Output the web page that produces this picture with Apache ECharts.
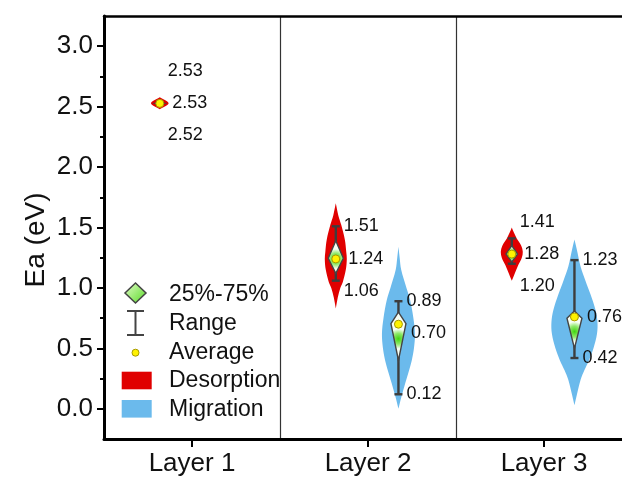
<!DOCTYPE html>
<html><head><meta charset="utf-8">
<script src="https://cdn.jsdelivr.net/npm/echarts@6/dist/echarts.min.js"></script>
<style>html,body{margin:0;padding:0;background:#fff}#c{width:622px;height:484px}</style>
</head><body><div id="c"></div>
<script>
// ---- data ----
const layers = ['Layer 1', 'Layer 2', 'Layer 3'];
const yTickValues = [0, 0.5, 1.0, 1.5, 2.0, 2.5, 3.0];
const yMinorTickValues = [0.25, 0.75, 1.25, 1.75, 2.25, 2.75];

// desorption statistics per layer
const desorptionMin    = [2.52, 1.06, 1.20];
const desorptionQ1     = [2.52, 1.12, 1.215];
const desorptionMedian = [2.527, 1.245, 1.28];
const desorptionQ3     = [2.533, 1.39, 1.35];
const desorptionMax    = [2.53, 1.51, 1.41];
const desorptionMean   = [2.527, 1.24, 1.28];
// migration statistics per layer (no migration in Layer 1)
const migrationMin    = [null, 0.12, 0.42];
const migrationQ1     = [null, 0.40, 0.50];
const migrationMedian = [null, 0.705, 0.75];
const migrationQ3     = [null, 0.80, 0.81];
const migrationMax    = [null, 0.89, 1.23];
const migrationMean   = [null, 0.70, 0.76];

// violin density profiles: [Ea value, relative density]
const desorptionDensity = [
  [[2.478, 0], [2.528, 0.8], [2.578, 0]],
  [[0.83, 0], [0.92, 0.18], [1.00, 0.41], [1.05, 0.64], [1.15, 0.91], [1.24, 1.0], [1.30, 0.95], [1.40, 0.82], [1.52, 0.5], [1.60, 0.23], [1.70, 0]],
  [[1.06, 0], [1.12, 0.27], [1.19, 0.59], [1.25, 0.91], [1.30, 1.0], [1.35, 0.86], [1.41, 0.45], [1.46, 0.18], [1.50, 0]]
];
const migrationDensity = [
  null,
  [[0.0, 0], [0.1, 0.27], [0.21, 0.61], [0.3, 0.91], [0.40, 1.21], [0.5, 1.41], [0.62, 1.5], [0.75, 1.36], [0.9, 1.06], [1.0, 0.73], [1.15, 0.25], [1.25, 0.11], [1.34, 0]],
  [[0.03, 0], [0.12, 0.23], [0.24, 0.56], [0.32, 0.91], [0.40, 1.32], [0.5, 1.73], [0.62, 2.05], [0.72, 2.09], [0.82, 1.91], [0.95, 1.45], [1.06, 1.0], [1.18, 0.55], [1.32, 0.21], [1.40, 0]]
];

// ---- chart ----
const FONT = '"Liberation Sans", Arial, Helvetica, sans-serif';
const chart = echarts.init(document.getElementById('c'), null, {renderer: 'canvas'});

function buildData(mn, q1, md, q3, mx, mean) {
  return layers.map((_, i) => [i, mn[i], q1[i], md[i], q3[i], mx[i], mean[i]]);
}

const boxFill = {
  type: 'radial', x: 0.5, y: 0.55, r: 0.6,
  colorStops: [{offset: 0, color: '#3fd60f'}, {offset: 0.55, color: '#8fe86a'}, {offset: 1, color: '#f8fff4'}]
};

function makeRender(profiles, offsetFrac, color) {
  return function (params, api) {
    const i = api.value(0);
    const prof = profiles[i];
    if (!prof || api.value(1) == null || isNaN(api.value(1))) return null;
    const vMin = api.value(1), q1 = api.value(2), med = api.value(3),
          q3 = api.value(4), vMax = api.value(5), mean = api.value(6);
    const band = api.size([1, 0])[0];
    const cx = api.coord([i, 0])[0] + offsetFrac * band;
    const unit = band / 16;
    const Y = v => api.coord([i, v])[1];
    const right = prof.map(p => [cx + p[1] * unit, Y(p[0])]);
    const left = prof.slice().reverse().map(p => [cx - p[1] * unit, Y(p[0])]);
    const children = [];
    children.push({
      type: 'polygon',
      shape: {points: right.concat(left), smooth: 0.35},
      style: {fill: color, stroke: null}
    });
    const yMax = Y(vMax), yMin = Y(vMin), yMean = Y(mean);
    const cap = 4;
    const wStyle = {stroke: '#3d3d3d', lineWidth: 2.4};
    children.push({type: 'line', shape: {x1: cx, y1: yMax, x2: cx, y2: yMin}, style: wStyle});
    children.push({type: 'line', shape: {x1: cx - cap, y1: yMax, x2: cx + cap, y2: yMax}, style: wStyle});
    children.push({type: 'line', shape: {x1: cx - cap, y1: yMin, x2: cx + cap, y2: yMin}, style: wStyle});
    const yq1 = Y(q1), yq3 = Y(q3), ymd = Y(med);
    const hw = Math.min(7.5, 4 + (yq1 - yq3) * 0.11);
    children.push({
      type: 'polygon',
      shape: {points: [[cx, yq3], [cx + hw, ymd], [cx, yq1], [cx - hw, ymd]]},
      style: {fill: boxFill, stroke: '#444', lineWidth: 1.4}
    });
    children.push({
      type: 'circle', shape: {cx: cx, cy: yMean, r: 4},
      style: {fill: '#fff200', stroke: '#a89a00', lineWidth: 1}
    });
    // label placement (avoid overlaps)
    const G = 32;
    let lMax = yMax, lMean = yMean, lMin = yMin;
    if (lMean - lMax < G) {
      if (yMin - (yMax + G) >= G) lMean = yMax + G; else lMax = lMean - G;
    }
    if (lMin - lMean < G) lMin = lMean + G;
    const tStyle = (txt) => ({text: txt, fill: '#111', font: '18px ' + FONT, align: 'left', verticalAlign: 'middle'});
    children.push({type: 'text', x: cx + 8, y: lMax, style: tStyle(vMax.toFixed(2))});
    children.push({type: 'text', x: cx + 12.5, y: lMean, style: tStyle(mean.toFixed(2))});
    children.push({type: 'text', x: cx + 8, y: lMin, style: tStyle(vMin.toFixed(2))});
    return {type: 'group', children: children};
  };
}

const legendX = 135.5;
const legendTextX = 169;
const legendFont = '23px ' + FONT;

const option = {
  animation: false,
  backgroundColor: '#fff',
  grid: {left: 104, top: 16, width: 528, height: 423, containLabel: false, outerBoundsMode: 'none'},
  xAxis: [{
    type: 'category', data: layers, position: 'bottom', boundaryGap: true,
    axisLine: {show: true, onZero: false, lineStyle: {color: '#000', width: 3}},
    axisTick: {show: true, alignWithLabel: true, length: 8, lineStyle: {color: '#000', width: 2}},
    axisLabel: {color: '#111', fontSize: 26, fontFamily: FONT, margin: 12},
    splitLine: {show: true, lineStyle: {color: '#333', width: 1.2}}
  }, {
    type: 'category', data: layers, position: 'top', boundaryGap: true,
    axisLine: {show: true, onZero: false, lineStyle: {color: '#000', width: 2.5}},
    axisTick: {show: false}, axisLabel: {show: false}, splitLine: {show: false}
  }],
  yAxis: [{
    type: 'value', min: -0.25, max: 3.25, position: 'left',
    axisLine: {show: true, onZero: false, lineStyle: {color: '#000', width: 3}},
    axisTick: {show: true, length: 7, customValues: yTickValues, lineStyle: {color: '#000', width: 2}},
    axisLabel: {show: true, customValues: yTickValues, color: '#111', fontSize: 26, fontFamily: FONT, margin: 11,
      formatter: v => Number(v).toFixed(1)},
    splitLine: {show: false}
  }, {
    type: 'value', min: -0.25, max: 3.25, position: 'left',
    axisLine: {show: false, onZero: false},
    axisTick: {show: true, length: 4, customValues: yMinorTickValues, lineStyle: {color: '#000', width: 2}},
    axisLabel: {show: false}, splitLine: {show: false}
  }],
  series: [{
    name: 'Desorption', type: 'custom',
    renderItem: makeRender(desorptionDensity, -0.183, '#e00000'),
    data: buildData(desorptionMin, desorptionQ1, desorptionMedian, desorptionQ3, desorptionMax, desorptionMean),
    encode: {x: 0, y: [1, 5]}, z: 3
  }, {
    name: 'Migration', type: 'custom',
    renderItem: makeRender(migrationDensity, 0.173, '#6bbaec'),
    data: buildData(migrationMin, migrationQ1, migrationMedian, migrationQ3, migrationMax, migrationMean),
    encode: {x: 0, y: [1, 5]}, z: 3
  }],
  graphic: [
    {type: 'text', x: 36, y: 240, rotation: Math.PI / 2,
     style: {text: 'Ea (eV)', font: '28px ' + FONT, fill: '#111', align: 'center', verticalAlign: 'middle'}},
    // legend
    {type: 'polygon', shape: {points: [[legendX, 283], [legendX + 10.5, 293], [legendX, 303], [legendX - 10.5, 293]]},
     style: {fill: {type: 'linear', x: 0, y: 0, x2: 1, y2: 1, colorStops: [{offset: 0, color: '#e6ffcc'}, {offset: 1, color: '#55d822'}]}, stroke: '#444', lineWidth: 1.5}},
    {type: 'text', x: legendTextX, y: 295, style: {text: '25%-75%', font: legendFont, fill: '#111', verticalAlign: 'middle'}},
    {type: 'line', shape: {x1: legendX, y1: 311, x2: legendX, y2: 335}, style: {stroke: '#444', lineWidth: 2}},
    {type: 'line', shape: {x1: legendX - 8.5, y1: 311, x2: legendX + 8.5, y2: 311}, style: {stroke: '#444', lineWidth: 2}},
    {type: 'line', shape: {x1: legendX - 8.5, y1: 335, x2: legendX + 8.5, y2: 335}, style: {stroke: '#444', lineWidth: 2}},
    {type: 'text', x: legendTextX, y: 324, style: {text: 'Range', font: legendFont, fill: '#111', verticalAlign: 'middle'}},
    {type: 'circle', shape: {cx: legendX, cy: 352.7, r: 3.5}, style: {fill: '#fff200', stroke: '#a89a00', lineWidth: 1}},
    {type: 'text', x: legendTextX, y: 353, style: {text: 'Average', font: legendFont, fill: '#111', verticalAlign: 'middle'}},
    {type: 'rect', shape: {x: 121.7, y: 371.7, width: 30, height: 17.6}, style: {fill: '#e00000'}},
    {type: 'text', x: legendTextX, y: 381, style: {text: 'Desorption', font: legendFont, fill: '#111', verticalAlign: 'middle'}},
    {type: 'rect', shape: {x: 121.7, y: 400, width: 30, height: 17.6}, style: {fill: '#6bbaec'}},
    {type: 'text', x: legendTextX, y: 410, style: {text: 'Migration', font: legendFont, fill: '#111', verticalAlign: 'middle'}}
  ]
};
chart.setOption(option);
</script>
</body></html>
